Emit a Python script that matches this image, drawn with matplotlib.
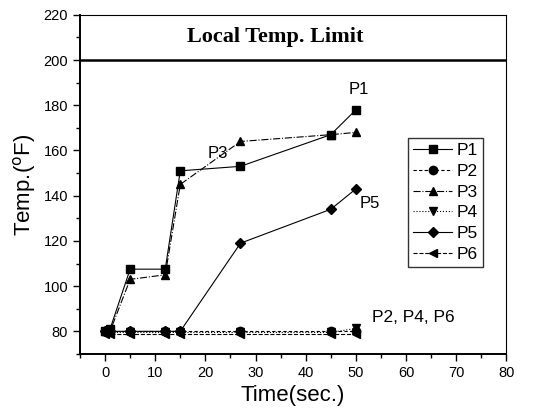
import matplotlib.pyplot as plt
from matplotlib.ticker import MultipleLocator

plt.rcParams['font.family'] = ['Liberation Sans', 'DejaVu Sans']

time = [0, 1, 5, 12, 15, 27, 45, 50]
p1 = [80, 81, 107.5, 107.5, 151, 153, 167, 178]
p2 = [80, 80, 80, 80, 80, 80, 80, 80]
p3 = [80, 80, 103, 105, 145, 164, 167, 168]
p4 = [79.5, 79.5, 79.5, 79.5, 79.5, 79.5, 79.5, 81.3]
p5 = [80, 80, 80, 80, 80, 119, 134, 143]
p6 = [79, 79, 79, 79, 79, 79, 79, 79]

limit = 200


def main():
    fig = plt.figure(figsize=(5.33, 4.13), dpi=100)
    ax = fig.add_axes([0.15, 0.143, 0.80, 0.821])

    kw = dict(color='black', lw=0.8, ms=6)
    ax.plot(time, p1, marker='s', ls='-', label='P1', **kw)
    ax.plot(time, p2, marker='o', ls=(0, (3, 2)), label='P2', **kw)
    ax.plot(time, p3, marker='^', ls='-.', label='P3', **kw)
    ax.plot(time, p4, marker='v', ls=':', label='P4', **kw)
    ax.plot(time, p5, marker='D', ls='-', label='P5', color='black', lw=0.8, ms=5)
    ax.plot(time, p6, marker='<', ls='--', label='P6', **kw)

    ax.axhline(limit, color='black', lw=1.8)
    ax.text(34, 210, 'Local Temp. Limit', family='Liberation Serif',
            fontsize=16, weight='bold', ha='center', va='center')

    ax.text(50.6, 187, 'P1', fontsize=12, ha='center', va='center')
    ax.text(22.5, 158.5, 'P3', fontsize=12, ha='center', va='center')
    ax.text(52.8, 136.5, 'P5', fontsize=12, ha='center', va='center')
    ax.text(61.5, 86, 'P2, P4, P6', fontsize=12.5, ha='center', va='center')

    ax.set_xlim(-5, 80)
    ax.set_ylim(70, 220)
    ax.xaxis.set_major_locator(MultipleLocator(10))
    ax.xaxis.set_minor_locator(MultipleLocator(5))
    ax.yaxis.set_major_locator(MultipleLocator(20))
    ax.yaxis.set_minor_locator(MultipleLocator(10))
    ax.tick_params(which='both', direction='out', labelsize=10.5)
    ax.tick_params(which='major', length=5, width=1)
    ax.tick_params(which='minor', length=3, width=1)
    for s in ['left', 'bottom']:
        ax.spines[s].set_linewidth(1.4)
    for s in ['top', 'right']:
        ax.spines[s].set_linewidth(0.8)

    ax.set_xlabel('Time(sec.)', fontsize=16)
    ax.set_ylabel('Temp.($^{\\mathrm{o}}$F)', fontsize=16)

    leg = ax.legend(loc='upper left', bbox_to_anchor=(0.77, 0.637), fontsize=12.5,
                    frameon=True, fancybox=False, edgecolor='black',
                    handlelength=2.2, labelspacing=0.32, borderpad=0.3,
                    handletextpad=0.3, borderaxespad=0)
    leg.get_frame().set_linewidth(1.0)

    fig.savefig('out.png', dpi=100)


if __name__ == '__main__':
    main()
